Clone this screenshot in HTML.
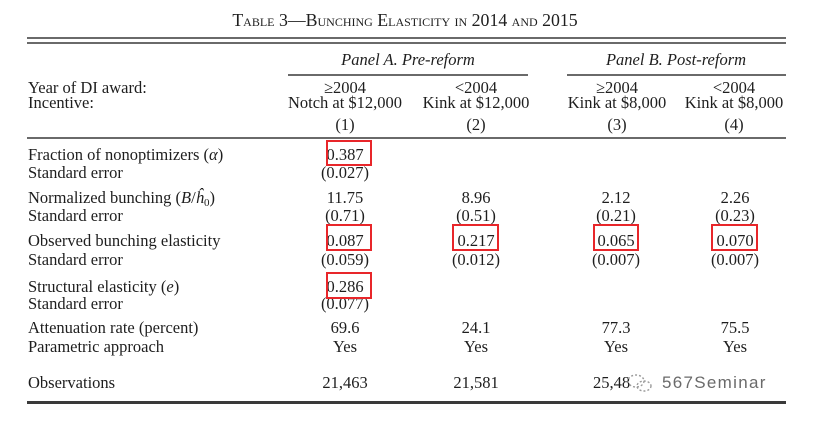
<!DOCTYPE html>
<html>
<head>
<meta charset="utf-8">
<style>
html,body{margin:0;padding:0;background:#fff;}
body{width:829px;height:421px;position:relative;overflow:hidden;font-family:"Liberation Serif","Times New Roman",serif;color:#1e1e1e;}
.t{position:absolute;font-size:16.5px;line-height:16px;white-space:nowrap;}
.c{position:absolute;font-size:16.5px;line-height:16px;white-space:nowrap;width:200px;margin-left:-100px;text-align:center;}
.r{position:absolute;background:#6a6a6a;}
.box{position:absolute;border:2px solid #e8262a;box-sizing:border-box;}
i{font-style:italic;}
sub{font-size:11px;vertical-align:-3px;line-height:0;}
</style>
</head>
<body>
<!-- title -->
<div class="c" style="left:405px;top:12px;width:440px;margin-left:-220px;font-size:17.8px;font-variant:small-caps;">Table 3—Bunching Elasticity in 2014 and 2015</div>

<!-- rules -->
<div class="r" style="left:27px;top:37px;width:759px;height:2px;"></div>
<div class="r" style="left:27px;top:42px;width:759px;height:2px;"></div>
<div class="r" style="left:288px;top:74px;width:240px;height:2px;"></div>
<div class="r" style="left:567px;top:74px;width:219px;height:2px;"></div>
<div class="r" style="left:27px;top:137px;width:759px;height:2px;"></div>
<div class="r" style="left:27px;top:401px;width:759px;height:3px;background:#3a3a3a;"></div>

<!-- panel heads -->
<div class="c" style="left:408px;top:52px;"><i>Panel A. Pre-reform</i></div>
<div class="c" style="left:676px;top:52px;"><i>Panel B. Post-reform</i></div>

<!-- header labels -->
<div class="t" style="left:28px;top:80px;">Year of DI award:</div>
<div class="t" style="left:28px;top:95px;">Incentive:</div>

<div class="c" style="left:345px;top:80px;">≥2004</div>
<div class="c" style="left:476px;top:80px;">&lt;2004</div>
<div class="c" style="left:617px;top:80px;">≥2004</div>
<div class="c" style="left:734px;top:80px;">&lt;2004</div>

<div class="c" style="left:345px;top:95px;">Notch at $12,000</div>
<div class="c" style="left:476px;top:95px;">Kink at $12,000</div>
<div class="c" style="left:617px;top:95px;">Kink at $8,000</div>
<div class="c" style="left:734px;top:95px;">Kink at $8,000</div>

<div class="c" style="left:345px;top:117px;">(1)</div>
<div class="c" style="left:476px;top:117px;">(2)</div>
<div class="c" style="left:617px;top:117px;">(3)</div>
<div class="c" style="left:734px;top:117px;">(4)</div>

<!-- row labels -->
<div class="t" style="left:28px;top:147px;">Fraction of nonoptimizers (<i>α</i>)</div>
<div class="t" style="left:28px;top:165px;">Standard error</div>
<div class="t" style="left:28px;top:190px;">Normalized bunching (<i>B</i>/<i>ĥ</i><sub>0</sub>)</div>
<div class="t" style="left:28px;top:208px;">Standard error</div>
<div class="t" style="left:28px;top:233px;">Observed bunching elasticity</div>
<div class="t" style="left:28px;top:252px;">Standard error</div>
<div class="t" style="left:28px;top:279px;">Structural elasticity (<i>e</i>)</div>
<div class="t" style="left:28px;top:296px;">Standard error</div>
<div class="t" style="left:28px;top:320px;">Attenuation rate (percent)</div>
<div class="t" style="left:28px;top:339px;">Parametric approach</div>
<div class="t" style="left:28px;top:375px;">Observations</div>

<!-- col 1 -->
<div class="c" style="left:345px;top:147px;">0.387</div>
<div class="c" style="left:345px;top:165px;">(0.027)</div>
<div class="c" style="left:345px;top:190px;">11.75</div>
<div class="c" style="left:345px;top:208px;">(0.71)</div>
<div class="c" style="left:345px;top:233px;">0.087</div>
<div class="c" style="left:345px;top:252px;">(0.059)</div>
<div class="c" style="left:345px;top:279px;">0.286</div>
<div class="c" style="left:345px;top:296px;">(0.077)</div>
<div class="c" style="left:345px;top:320px;">69.6</div>
<div class="c" style="left:345px;top:339px;">Yes</div>
<div class="c" style="left:345px;top:375px;">21,463</div>

<!-- col 2 -->
<div class="c" style="left:476px;top:190px;">8.96</div>
<div class="c" style="left:476px;top:208px;">(0.51)</div>
<div class="c" style="left:476px;top:233px;">0.217</div>
<div class="c" style="left:476px;top:252px;">(0.012)</div>
<div class="c" style="left:476px;top:320px;">24.1</div>
<div class="c" style="left:476px;top:339px;">Yes</div>
<div class="c" style="left:476px;top:375px;">21,581</div>

<!-- col 3 -->
<div class="c" style="left:616px;top:190px;">2.12</div>
<div class="c" style="left:616px;top:208px;">(0.21)</div>
<div class="c" style="left:616px;top:233px;">0.065</div>
<div class="c" style="left:616px;top:252px;">(0.007)</div>
<div class="c" style="left:616px;top:320px;">77.3</div>
<div class="c" style="left:616px;top:339px;">Yes</div>
<div class="t" style="left:593px;top:375px;">25,48</div>

<!-- col 4 -->
<div class="c" style="left:735px;top:190px;">2.26</div>
<div class="c" style="left:735px;top:208px;">(0.23)</div>
<div class="c" style="left:735px;top:233px;">0.070</div>
<div class="c" style="left:735px;top:252px;">(0.007)</div>
<div class="c" style="left:735px;top:320px;">75.5</div>
<div class="c" style="left:735px;top:339px;">Yes</div>

<!-- watermark -->
<svg style="position:absolute;left:624px;top:372px;" width="32" height="22" viewBox="0 0 32 22">
  <g fill="none" stroke="#9a9a9a" stroke-width="1.4" stroke-dasharray="2 2">
    <ellipse cx="12" cy="9" rx="8" ry="6"/>
    <ellipse cx="20" cy="14" rx="7" ry="5"/>
  </g>
</svg>
<div class="t" style="left:662px;top:375px;font-family:'Liberation Sans','DejaVu Sans',sans-serif;font-size:17px;color:#6a6a6a;letter-spacing:1.3px;">567Seminar</div>

<!-- red boxes -->
<div class="box" style="left:326px;top:140px;width:46px;height:26px;"></div>
<div class="box" style="left:326px;top:224px;width:46px;height:27px;"></div>
<div class="box" style="left:326px;top:272px;width:46px;height:27px;"></div>
<div class="box" style="left:452px;top:224px;width:47px;height:27px;"></div>
<div class="box" style="left:593px;top:224px;width:46px;height:27px;"></div>
<div class="box" style="left:711px;top:224px;width:47px;height:27px;"></div>
</body>
</html>
